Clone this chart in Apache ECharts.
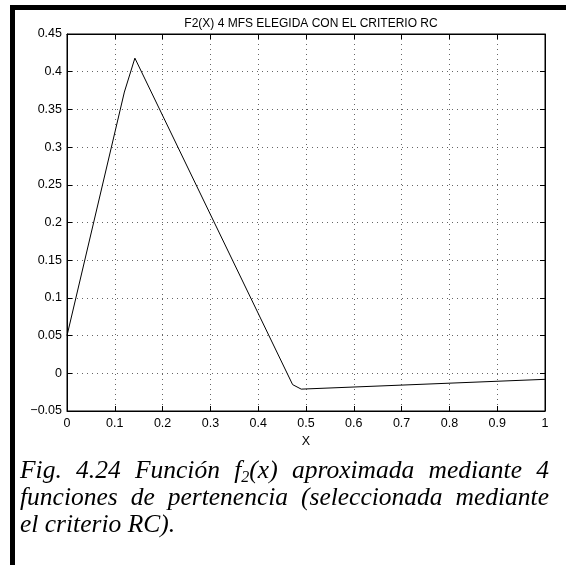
<!DOCTYPE html>
<html><head><meta charset="utf-8">
<script src="https://cdn.jsdelivr.net/npm/echarts@6/dist/echarts.min.js"></script>
<style>
html,body{margin:0;padding:0;background:#fff;}
#wrap{position:relative;width:566px;height:565px;overflow:hidden;}
#chart{position:absolute;left:0;top:0;width:566px;height:565px;}
#cap{position:absolute;left:20px;top:456px;width:529px;font-family:"Liberation Serif","Times New Roman",serif;font-style:italic;font-size:25.5px;line-height:27px;color:#000;}
#cap div{white-space:nowrap;}
#cap .j{text-align:justify;text-align-last:justify;}
#cap sub{font-size:16px;vertical-align:-4px;line-height:0;}
</style></head>
<body><div id="wrap"><div id="chart"></div>
<div id="cap"><div class="j">Fig. 4.24 Función f<sub>2</sub>(x) aproximada mediante 4</div><div class="j">funciones de pertenencia (seleccionada mediante</div><div>el criterio RC).</div></div></div>
<script>
const xValues = [0, 0.12, 0.142, 0.472, 0.49, 1];
const yValues = [0.05, 0.373, 0.418, -0.015, -0.021, -0.008];
const titleText = 'F2(X) 4 MFS ELEGIDA CON EL CRITERIO RC';
const xName = 'X';

const chart = echarts.init(document.getElementById('chart'));
const fmt = v => {
  const s = String(Math.round(v * 1000) / 1000);
  return s.replace('-', '\u2212');
};
const font = {fontFamily: 'Liberation Sans, Arial, sans-serif', fontSize: 12.5, color: '#000'};
const mkAxis = () => ({
  axisLine: {show: true, onZero: false, lineStyle: {color: '#000', width: 1}},
  axisTick: {show: true, inside: true, length: 5, lineStyle: {color: '#000'}},
});
const grid = {color: '#666', type: [1, 4], width: 1};
chart.setOption({
  animation: false,
  backgroundColor: '#fff',
  title: {text: titleText, left: 306, textAlign: 'center', top: 13,
    textStyle: Object.assign({}, font, {fontWeight: 'normal', fontSize: 12})},
  grid: {left: 67, right: 21, top: 34, bottom: 154, show: true, borderColor: '#000', borderWidth: 1, backgroundColor: 'transparent'},
  xAxis: [
    Object.assign({type: 'value', min: 0, max: 1, interval: 0.1, position: 'bottom',
      name: xName, nameLocation: 'middle', nameGap: 21, nameTextStyle: font,
      axisLabel: Object.assign({margin: 6, formatter: fmt}, font),
      splitLine: {show: true, lineStyle: grid}}, mkAxis()),
    Object.assign({type: 'value', min: 0, max: 1, interval: 0.1, position: 'top',
      axisLabel: {show: false}, splitLine: {show: false}}, mkAxis())
  ],
  yAxis: [
    Object.assign({type: 'value', min: -0.05, max: 0.45, interval: 0.05, position: 'left',
      axisLabel: Object.assign({margin: 5, formatter: fmt}, font),
      splitLine: {show: true, lineStyle: grid}}, mkAxis()),
    Object.assign({type: 'value', min: -0.05, max: 0.45, interval: 0.05, position: 'right',
      axisLabel: {show: false}, splitLine: {show: false}}, mkAxis())
  ],
  series: [{
    type: 'line', data: xValues.map((x, i) => [x, yValues[i]]),
    showSymbol: false, symbol: 'none',
    lineStyle: {color: '#000', width: 1}
  }, {
    type: 'line', xAxisIndex: 1, yAxisIndex: 1, data: [], symbol: 'none'
  }],
  graphic: [
    {type: 'rect', shape: {x: 10, y: 5, width: 556, height: 5}, style: {fill: '#000'}, z: 100},
    {type: 'rect', shape: {x: 10, y: 5, width: 5, height: 560}, style: {fill: '#000'}, z: 100}
  ]
});
</script></body></html>
